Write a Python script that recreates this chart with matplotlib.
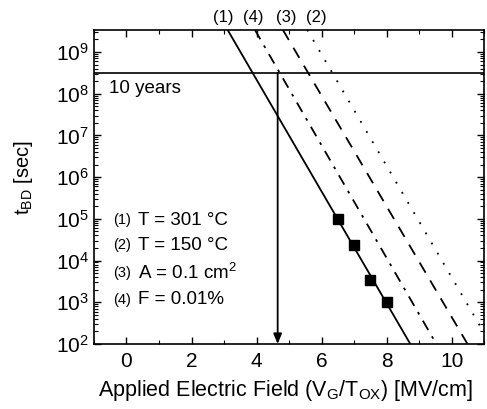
import matplotlib
matplotlib.use("Agg")
from matplotlib import pyplot as plt
from matplotlib import ticker
from matplotlib import transforms

plt.rcParams['font.family'] = ['Liberation Sans', 'DejaVu Sans']
plt.rcParams['mathtext.fontset'] = 'custom'
plt.rcParams['mathtext.rm'] = 'Liberation Sans'
plt.rcParams['mathtext.it'] = 'Liberation Sans'

# 各条线的两个端点 (电场 MV/cm, tBD 秒)
e_line1 = [3.11, 8.73]
e_line2 = [5.56, 11.20]
e_line3 = [4.81, 10.49]
e_line4 = [3.95, 9.53]
t_ends = [3.4e9, 1e2]

# 实测点
e_meas = [6.5, 7.0, 7.5, 8.0]
t_meas = [1.0e5, 2.3e4, 3.4e3, 1.0e3]

ten_years = 3.15e8
e_arrow = 4.65

line_tags = ['(1)', '(4)', '(3)', '(2)']
tag_x = [2.97, 3.89, 4.91, 5.83]

notes_num = ['(1)', '(2)', '(3)', '(4)']
notes_text = ['T = 301 °C', 'T = 150 °C', 'A = 0.1 cm$^2$', 'F = 0.01%']
notes_t = [9.3e4, 2.35e4, 5.0e3, 1.15e3]

fig = plt.figure(figsize=(4.87, 4.09), dpi=100)
ax = fig.add_axes([0.193, 0.159, 0.801, 0.768])

ax.plot(e_line1, t_ends, color='black', lw=1.3, ls='-')
ax.plot(e_line2, t_ends, color='black', lw=1.3, ls=(0, (1, 5.5)))
ax.plot(e_line3, t_ends, color='black', lw=1.3, ls=(0, (6.5, 5)))
ax.plot(e_line4, t_ends, color='black', lw=1.3, ls=(0, (6, 4, 1.5, 4)))
ax.plot(e_meas, t_meas, 's', color='black', ms=7)

ax.axhline(ten_years, color='black', lw=1.2)
ax.annotate('', xy=(e_arrow, 1e2), xytext=(e_arrow, ten_years),
            arrowprops=dict(arrowstyle='-|>,head_length=0.6,head_width=0.25',
                            color='black', lw=1.3, shrinkA=0, shrinkB=0))
ax.text(-0.55, 1.3e8, '10 years', fontsize=13.5, va='center', ha='left')

ax.set_yscale('log')
ax.set_xlim(-1, 11)
ax.set_ylim(1e2, 3.4e9)

trans = transforms.blended_transform_factory(ax.transData, ax.transAxes)
for tag, x in zip(line_tags, tag_x):
    ax.text(x, 1.038, tag, transform=trans, fontsize=12, ha='center', va='center')

for num, txt, t in zip(notes_num, notes_text, notes_t):
    ax.text(-0.41, t, num, fontsize=10.5, va='center', ha='left')
    ax.text(0.36, t, txt, fontsize=13.5, va='center', ha='left')

ax.xaxis.set_major_locator(ticker.MultipleLocator(2))
ax.xaxis.set_minor_locator(ticker.MultipleLocator(1))
ax.yaxis.set_major_locator(ticker.LogLocator(base=10, numticks=20))
ax.yaxis.set_minor_locator(ticker.LogLocator(base=10, subs=range(2, 10), numticks=20))
ax.yaxis.set_minor_formatter(ticker.NullFormatter())
ax.tick_params(which='both', direction='in', top=True, right=True, labelsize=15)
ax.tick_params(axis='x', pad=6)
ax.tick_params(which='major', length=5, width=1)
ax.tick_params(which='minor', length=3, width=0.8)
for s in ax.spines.values():
    s.set_linewidth(1.2)

ax.set_xlabel('Applied Electric Field (V$_G$/T$_{OX}$) [MV/cm]', fontsize=15.5)
ax.set_ylabel('t$_{BD}$ [sec]', fontsize=14.5)
ax.xaxis.set_label_coords(0.49, -0.107)
ax.yaxis.set_label_coords(-0.15, 0.53)

plt.savefig('out.png', dpi=100)
